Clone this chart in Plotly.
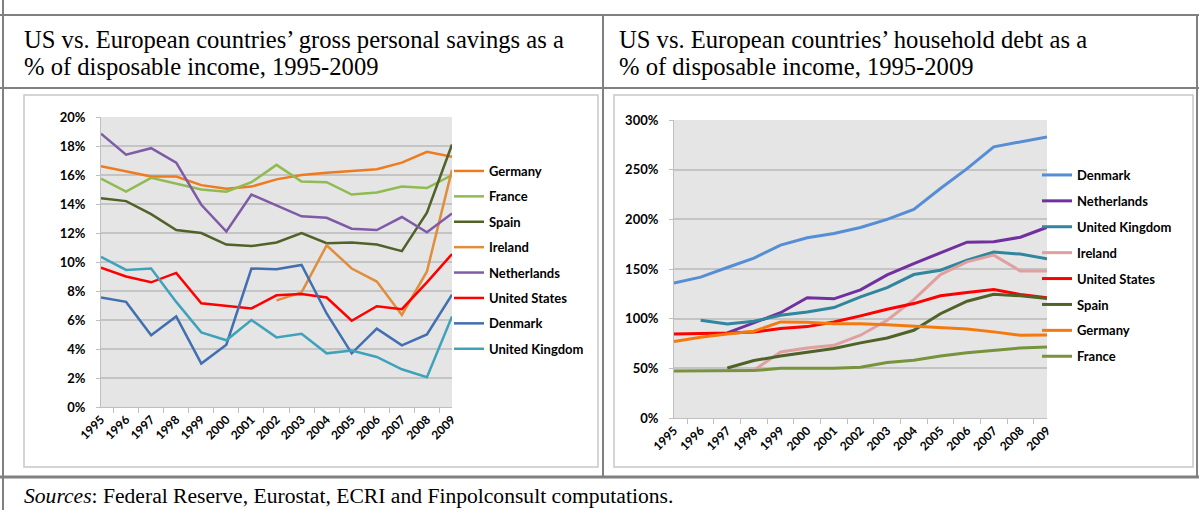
import plotly.graph_objects as go

years = ['1995', '1996', '1997', '1998', '1999', '2000', '2001', '2002',
         '2003', '2004', '2005', '2006', '2007', '2008', '2009']

# gross personal savings, % of disposable income
sav_germany = [16.6, 16.25, 15.9, 15.9, 15.3, 15.05, 15.2, 15.7, 16.0, 16.15, 16.3, 16.4, 16.85, 17.6, 17.25]
sav_france = [15.75, 14.85, 15.8, 15.4, 15.0, 14.85, 15.5, 16.7, 15.55, 15.5, 14.65, 14.8, 15.2, 15.1, 16.0]
sav_spain = [14.4, 14.2, 13.3, 12.2, 12.0, 11.2, 11.1, 11.35, 12.0, 11.3, 11.35, 11.2, 10.75, 13.4, 18.1]
sav_ireland = [None, None, None, None, None, None, None, 7.35, 7.9, 11.15, 9.55, 8.65, 6.35, 9.35, 16.35]
sav_netherlands = [18.85, 17.4, 17.85, 16.85, 13.95, 12.1, 14.65, 13.9, 13.15, 13.05, 12.3, 12.2, 13.1, 12.05, 13.35]
sav_us = [9.6, 9.0, 8.6, 9.25, 7.15, 7.0, 6.8, 7.7, 7.8, 7.55, 5.95, 6.95, 6.75, 8.6, 10.55]
sav_denmark = [7.55, 7.25, 4.95, 6.25, 3.0, 4.3, 9.55, 9.5, 9.8, 6.45, 3.7, 5.4, 4.25, 5.0, 7.75]
sav_uk = [10.35, 9.45, 9.55, 7.25, 5.15, 4.6, 6.0, 4.8, 5.05, 3.7, 3.9, 3.45, 2.6, 2.05, 6.25]

# household debt, % of disposable income
debt_denmark = [136, 141.8, 151.5, 161, 174, 181.4, 185.8, 191.8, 200, 210, 231, 251, 273, 278, 283]
debt_netherlands = [None, None, 85.6, 96, 106, 121, 120, 129, 144, 155.5, 166.6, 177, 177.4, 182, 192]
debt_uk = [None, 98.4, 94.7, 97.4, 103.5, 106.8, 111.2, 122, 131.3, 144.4, 148.8, 158.9, 167, 165, 160.2]
debt_ireland = [None, None, None, 48, 66.5, 70.5, 73.2, 83.3, 98.4, 119.2, 144.4, 157.2, 164, 148, 148]
debt_us = [84.6, 84.8, 85.6, 86.7, 90, 92, 96.7, 102.8, 109.5, 115.2, 123, 126.3, 129.3, 124.3, 121]
debt_spain = [None, None, 50.4, 57.8, 62.5, 66.5, 69.9, 75.6, 80.6, 88.3, 105, 117.6, 124.6, 123, 120.3]
debt_germany = [76.9, 81.3, 84.6, 87.3, 96.7, 96.4, 95, 95, 94, 92.7, 91.4, 89.7, 86.7, 83.3, 83.6]
debt_france = [47.4, 47.7, 48, 47.7, 50, 50, 50, 51, 55.8, 58.1, 62.5, 65.8, 68.5, 70.5, 71.5]

W, H = 1199, 510


def px(x):
    return x / W


def py(y):
    return 1 - y / H


left_series = [
    ('Germany', sav_germany, '#f07a1e'),
    ('France', sav_france, '#8fbb52'),
    ('Spain', sav_spain, '#4f6228'),
    ('Ireland', sav_ireland, '#e08d3c'),
    ('Netherlands', sav_netherlands, '#7f5ba6'),
    ('United States', sav_us, '#ff0000'),
    ('Denmark', sav_denmark, '#416fb0'),
    ('United Kingdom', sav_uk, '#3fa2bb'),
]
right_series = [
    ('Denmark', debt_denmark, '#558ed5'),
    ('Netherlands', debt_netherlands, '#7030a0'),
    ('United Kingdom', debt_uk, '#31859c'),
    ('Ireland', debt_ireland, '#e0a0a0'),
    ('United States', debt_us, '#ff0000'),
    ('Spain', debt_spain, '#4f6228'),
    ('Germany', debt_germany, '#f47a10'),
    ('France', debt_france, '#77933c'),
]

fig = go.Figure()
for name, vals, col in left_series:
    fig.add_trace(go.Scatter(x=years, y=vals, name=name, mode='lines',
                             line=dict(color=col, width=2.5),
                             xaxis='x', yaxis='y', legend='legend',
                             legendgroup='l_' + name))
for name, vals, col in right_series:
    fig.add_trace(go.Scatter(x=years, y=vals, name=name, mode='lines',
                             line=dict(color=col, width=3),
                             xaxis='x2', yaxis='y2', legend='legend2',
                             legendgroup='r_' + name))

tick_font = dict(family='Lato', size=13, color='#000000', weight='bold')
xax = dict(type='category', tickangle=-45, tickson='boundaries', ticks='outside',
           ticklen=5, tickcolor='#bfbfbf', showline=True, linecolor='#bfbfbf',
           linewidth=1, showgrid=False, tickfont=dict(family='Lato', size=12, color='#000000', weight='bold'),
           automargin=False, fixedrange=True)
yax = dict(showline=True, linecolor='#bfbfbf', linewidth=1, ticks='outside', ticklen=4,
           tickcolor='#bfbfbf', gridcolor='#c4c4c4', gridwidth=1.5, zeroline=False,
           tickfont=tick_font, ticksuffix='%', ticklabelstandoff=8, automargin=False)

leg = dict(font=dict(family='Lato', size=13, color='#000000', weight='bold'),
           bgcolor='rgba(0,0,0,0)', itemwidth=30,
           xanchor='left', yanchor='top')

fig.update_layout(
    width=W, height=H, margin=dict(l=0, r=0, t=0, b=0, autoexpand=False),
    paper_bgcolor='white', plot_bgcolor='#e5e5e5',
    xaxis=dict(xax, domain=[px(101), px(452)], anchor='y'),
    yaxis=dict(yax, domain=[py(407), py(117)], range=[0, 20], dtick=2, anchor='x'),
    xaxis2=dict(xax, domain=[px(674), px(1047)], anchor='y2'),
    yaxis2=dict(yax, domain=[py(418), py(120)], range=[0, 300], dtick=50, anchor='x2'),
    legend=dict(leg, x=px(449), y=py(156), tracegroupgap=5.5),
    legend2=dict(leg, x=px(1037), y=py(160), tracegroupgap=6),
    showlegend=True,
)

line_col = '#808080'
shapes = [
    # table rules
    dict(type='line', x0=0, x1=1, y0=py(15), y1=py(15), line=dict(color=line_col, width=2)),
    dict(type='line', x0=0, x1=1, y0=py(88), y1=py(88), line=dict(color=line_col, width=2)),
    dict(type='line', x0=0, x1=1, y0=py(477), y1=py(477), line=dict(color=line_col, width=3)),
    dict(type='line', x0=px(3), x1=px(3), y0=0, y1=1, line=dict(color=line_col, width=2)),
    dict(type='line', x0=px(603), x1=px(603), y0=py(15), y1=py(477), line=dict(color=line_col, width=2)),
    dict(type='line', x0=px(1197), x1=px(1197), y0=py(15), y1=py(477), line=dict(color=line_col, width=2)),
    # chart frames
    dict(type='rect', x0=px(24), x1=px(598), y0=py(95), y1=py(467), line=dict(color='#c8c8c8', width=1.5)),
    dict(type='rect', x0=px(614), x1=px(1193), y0=py(95), y1=py(467), line=dict(color='#c8c8c8', width=1.5)),
]
for s in shapes:
    s.update(xref='paper', yref='paper', layer='below')
fig.update_layout(shapes=shapes)

hfont = dict(family='Liberation Serif', size=24.6, color='#000000')
headers = [
    (22, 40, 'US vs. European countries\u2019 gross personal savings as a'),
    (22, 67, '% of disposable income, 1995-2009'),
    (617, 40, 'US vs. European countries\u2019 household debt as a'),
    (617, 67, '% of disposable income, 1995-2009'),
]
for x, y, t in headers:
    fig.add_annotation(x=px(x), y=py(y), xref='paper', yref='paper', text=t,
                       showarrow=False, xanchor='left', yanchor='middle', font=hfont)

fig.add_annotation(x=px(22), y=py(496), xref='paper', yref='paper',
                   text='<i>Sources</i>: Federal Reserve, Eurostat, ECRI and Finpolconsult computations.',
                   showarrow=False, xanchor='left', yanchor='middle',
                   font=dict(family='Liberation Serif', size=21.6, color='#000000'))

fig.write_html("out.html", config={'displayModeBar': False},
               post_script="document.body.style.margin='0';")
